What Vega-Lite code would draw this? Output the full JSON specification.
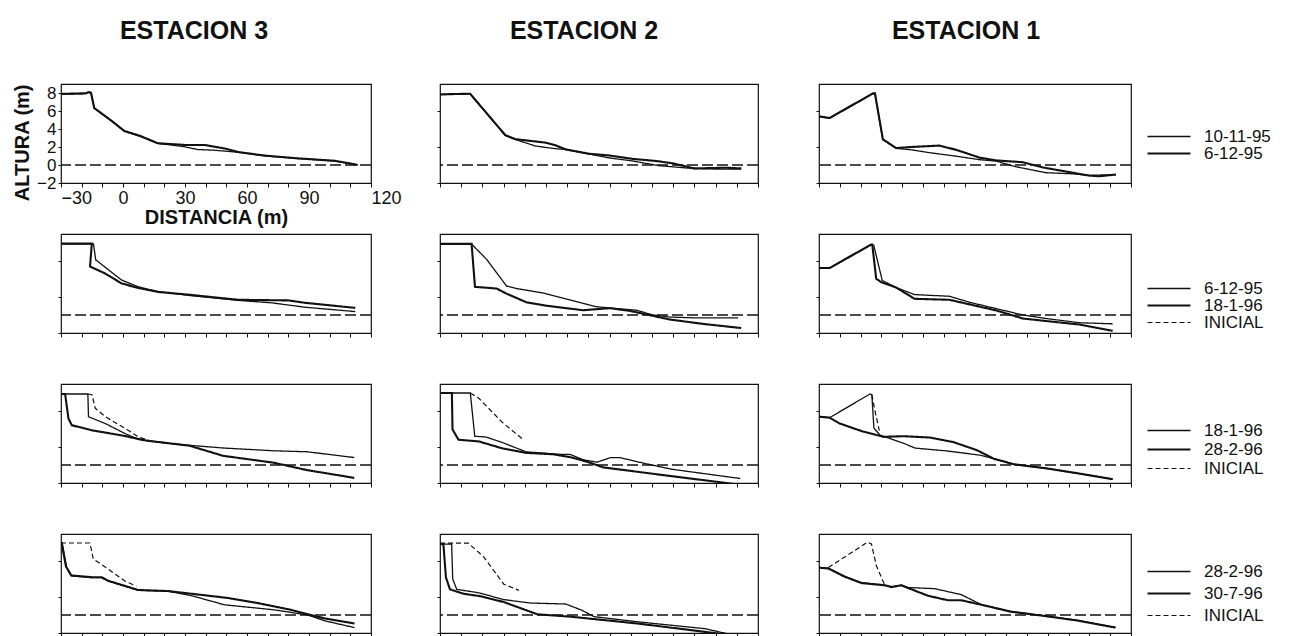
{
"$schema": "https://vega.github.io/schema/vega-lite/v6.json",
"background": "white",
"padding": {"top": 18, "left": 12, "right": 2, "bottom": 0},
"datasets": {"perfiles": [
{"fila":1,"est":3,"serie":"6-12-95","i":0,"d":-30,"z":7.9},{"fila":1,"est":3,"serie":"6-12-95","i":1,"d":-17.9,"z":7.97},{"fila":1,"est":3,"serie":"6-12-95","i":2,"d":-16.8,"z":8.1},{"fila":1,"est":3,"serie":"6-12-95","i":3,"d":-15.5,"z":8.05},{"fila":1,"est":3,"serie":"6-12-95","i":4,"d":-13.9,"z":6.33},{"fila":1,"est":3,"serie":"6-12-95","i":5,"d":-5.8,"z":4.96},{"fila":1,"est":3,"serie":"6-12-95","i":6,"d":0.6,"z":3.79},{"fila":1,"est":3,"serie":"6-12-95","i":7,"d":8.7,"z":3.2},{"fila":1,"est":3,"serie":"6-12-95","i":8,"d":16.8,"z":2.42},{"fila":1,"est":3,"serie":"6-12-95","i":9,"d":29.7,"z":2.23},{"fila":1,"est":3,"serie":"6-12-95","i":10,"d":39.4,"z":2.23},{"fila":1,"est":3,"serie":"6-12-95","i":11,"d":49,"z":1.84},{"fila":1,"est":3,"serie":"6-12-95","i":12,"d":55.5,"z":1.45},{"fila":1,"est":3,"serie":"6-12-95","i":13,"d":68.4,"z":1.05},{"fila":1,"est":3,"serie":"6-12-95","i":14,"d":84.5,"z":0.74},{"fila":1,"est":3,"serie":"6-12-95","i":15,"d":102.3,"z":0.47},{"fila":1,"est":3,"serie":"6-12-95","i":16,"d":110.3,"z":0.16},{"fila":1,"est":3,"serie":"6-12-95","i":17,"d":113.5,"z":0.0},
{"fila":1,"est":3,"serie":"10-11-95","i":0,"d":-30,"z":7.85},{"fila":1,"est":3,"serie":"10-11-95","i":1,"d":-17.9,"z":7.93},{"fila":1,"est":3,"serie":"10-11-95","i":2,"d":-16.8,"z":8.05},{"fila":1,"est":3,"serie":"10-11-95","i":3,"d":-15.5,"z":8.0},{"fila":1,"est":3,"serie":"10-11-95","i":4,"d":-13.9,"z":6.3},{"fila":1,"est":3,"serie":"10-11-95","i":5,"d":-5.8,"z":4.92},{"fila":1,"est":3,"serie":"10-11-95","i":6,"d":0.6,"z":3.75},{"fila":1,"est":3,"serie":"10-11-95","i":7,"d":8.7,"z":3.15},{"fila":1,"est":3,"serie":"10-11-95","i":8,"d":16.8,"z":2.4},{"fila":1,"est":3,"serie":"10-11-95","i":9,"d":29.7,"z":2.03},{"fila":1,"est":3,"serie":"10-11-95","i":10,"d":36.1,"z":1.72},{"fila":1,"est":3,"serie":"10-11-95","i":11,"d":44.2,"z":1.64},{"fila":1,"est":3,"serie":"10-11-95","i":12,"d":55.5,"z":1.42},{"fila":1,"est":3,"serie":"10-11-95","i":13,"d":68.4,"z":1.02},{"fila":1,"est":3,"serie":"10-11-95","i":14,"d":84.5,"z":0.72},{"fila":1,"est":3,"serie":"10-11-95","i":15,"d":102.3,"z":0.45},{"fila":1,"est":3,"serie":"10-11-95","i":16,"d":110.3,"z":0.14},{"fila":1,"est":3,"serie":"10-11-95","i":17,"d":113.5,"z":0.0},
{"fila":1,"est":2,"serie":"6-12-95","i":0,"d":-30,"z":7.85},{"fila":1,"est":2,"serie":"6-12-95","i":1,"d":-15.8,"z":7.92},{"fila":1,"est":2,"serie":"6-12-95","i":2,"d":0.8,"z":3.32},{"fila":1,"est":2,"serie":"6-12-95","i":3,"d":5.5,"z":2.87},{"fila":1,"est":2,"serie":"6-12-95","i":4,"d":19.7,"z":2.49},{"fila":1,"est":2,"serie":"6-12-95","i":5,"d":24.5,"z":2.19},{"fila":1,"est":2,"serie":"6-12-95","i":6,"d":29.2,"z":1.74},{"fila":1,"est":2,"serie":"6-12-95","i":7,"d":40.3,"z":1.25},{"fila":1,"est":2,"serie":"6-12-95","i":8,"d":49.7,"z":1.06},{"fila":1,"est":2,"serie":"6-12-95","i":9,"d":60.8,"z":0.68},{"fila":1,"est":2,"serie":"6-12-95","i":10,"d":71.8,"z":0.45},{"fila":1,"est":2,"serie":"6-12-95","i":11,"d":79.7,"z":0.19},{"fila":1,"est":2,"serie":"6-12-95","i":12,"d":90,"z":-0.38},{"fila":1,"est":2,"serie":"6-12-95","i":13,"d":105,"z":-0.3},{"fila":1,"est":2,"serie":"6-12-95","i":14,"d":112.1,"z":-0.38},
{"fila":1,"est":2,"serie":"10-11-95","i":0,"d":-30,"z":7.82},{"fila":1,"est":2,"serie":"10-11-95","i":1,"d":-15.8,"z":7.9},{"fila":1,"est":2,"serie":"10-11-95","i":2,"d":0.8,"z":3.28},{"fila":1,"est":2,"serie":"10-11-95","i":3,"d":5.5,"z":2.84},{"fila":1,"est":2,"serie":"10-11-95","i":4,"d":15,"z":2.11},{"fila":1,"est":2,"serie":"10-11-95","i":5,"d":24.5,"z":1.81},{"fila":1,"est":2,"serie":"10-11-95","i":6,"d":29.2,"z":1.72},{"fila":1,"est":2,"serie":"10-11-95","i":7,"d":40.3,"z":1.22},{"fila":1,"est":2,"serie":"10-11-95","i":8,"d":49.7,"z":0.79},{"fila":1,"est":2,"serie":"10-11-95","i":9,"d":60.8,"z":0.45},{"fila":1,"est":2,"serie":"10-11-95","i":10,"d":73.4,"z":-0.08},{"fila":1,"est":2,"serie":"10-11-95","i":11,"d":90,"z":-0.4},{"fila":1,"est":2,"serie":"10-11-95","i":12,"d":100.3,"z":-0.45},{"fila":1,"est":2,"serie":"10-11-95","i":13,"d":112.1,"z":-0.45},
{"fila":1,"est":1,"serie":"6-12-95","i":0,"d":-30,"z":5.41},{"fila":1,"est":1,"serie":"6-12-95","i":1,"d":-24.9,"z":5.22},{"fila":1,"est":1,"serie":"6-12-95","i":2,"d":-4.1,"z":7.96},{"fila":1,"est":1,"serie":"6-12-95","i":3,"d":-3.1,"z":7.96},{"fila":1,"est":1,"serie":"6-12-95","i":4,"d":0.7,"z":2.86},{"fila":1,"est":1,"serie":"6-12-95","i":5,"d":7.1,"z":1.88},{"fila":1,"est":1,"serie":"6-12-95","i":6,"d":14.3,"z":2.0},{"fila":1,"est":1,"serie":"6-12-95","i":7,"d":27.9,"z":2.16},{"fila":1,"est":1,"serie":"6-12-95","i":8,"d":35.9,"z":1.69},{"fila":1,"est":1,"serie":"6-12-95","i":9,"d":47.2,"z":0.82},{"fila":1,"est":1,"serie":"6-12-95","i":10,"d":55.2,"z":0.51},{"fila":1,"est":1,"serie":"6-12-95","i":11,"d":68,"z":0.31},{"fila":1,"est":1,"serie":"6-12-95","i":12,"d":77.6,"z":-0.27},{"fila":1,"est":1,"serie":"6-12-95","i":13,"d":92,"z":-0.86},{"fila":1,"est":1,"serie":"6-12-95","i":14,"d":100,"z":-1.18},{"fila":1,"est":1,"serie":"6-12-95","i":15,"d":104.8,"z":-1.25},{"fila":1,"est":1,"serie":"6-12-95","i":16,"d":112.8,"z":-1.06},
{"fila":1,"est":1,"serie":"10-11-95","i":0,"d":-30,"z":5.38},{"fila":1,"est":1,"serie":"10-11-95","i":1,"d":-24.9,"z":5.2},{"fila":1,"est":1,"serie":"10-11-95","i":2,"d":-4.1,"z":7.92},{"fila":1,"est":1,"serie":"10-11-95","i":3,"d":-3.1,"z":7.92},{"fila":1,"est":1,"serie":"10-11-95","i":4,"d":0.7,"z":2.82},{"fila":1,"est":1,"serie":"10-11-95","i":5,"d":7.1,"z":1.85},{"fila":1,"est":1,"serie":"10-11-95","i":6,"d":14.3,"z":1.69},{"fila":1,"est":1,"serie":"10-11-95","i":7,"d":23.1,"z":1.37},{"fila":1,"est":1,"serie":"10-11-95","i":8,"d":35.9,"z":0.98},{"fila":1,"est":1,"serie":"10-11-95","i":9,"d":47.2,"z":0.59},{"fila":1,"est":1,"serie":"10-11-95","i":10,"d":55.2,"z":0.43},{"fila":1,"est":1,"serie":"10-11-95","i":11,"d":64.8,"z":-0.2},{"fila":1,"est":1,"serie":"10-11-95","i":12,"d":79.2,"z":-0.86},{"fila":1,"est":1,"serie":"10-11-95","i":13,"d":92,"z":-0.98},{"fila":1,"est":1,"serie":"10-11-95","i":14,"d":100,"z":-1.15},{"fila":1,"est":1,"serie":"10-11-95","i":15,"d":112.8,"z":-1.06},
{"fila":2,"est":3,"serie":"18-1-96","i":0,"d":-30,"z":7.93},{"fila":2,"est":3,"serie":"18-1-96","i":1,"d":-15.1,"z":7.93},{"fila":2,"est":3,"serie":"18-1-96","i":2,"d":-15.95,"z":5.38},{"fila":2,"est":3,"serie":"18-1-96","i":3,"d":-8.7,"z":4.62},{"fila":2,"est":3,"serie":"18-1-96","i":4,"d":-0.6,"z":3.5},{"fila":2,"est":3,"serie":"18-1-96","i":5,"d":7.5,"z":3.0},{"fila":2,"est":3,"serie":"18-1-96","i":6,"d":17.1,"z":2.56},{"fila":2,"est":3,"serie":"18-1-96","i":7,"d":31.7,"z":2.26},{"fila":2,"est":3,"serie":"18-1-96","i":8,"d":43,"z":1.99},{"fila":2,"est":3,"serie":"18-1-96","i":9,"d":55.9,"z":1.69},{"fila":2,"est":3,"serie":"18-1-96","i":10,"d":80.1,"z":1.62},{"fila":2,"est":3,"serie":"18-1-96","i":11,"d":88.2,"z":1.35},{"fila":2,"est":3,"serie":"18-1-96","i":12,"d":112.4,"z":0.79},
{"fila":2,"est":3,"serie":"6-12-95","i":0,"d":-30,"z":7.9},{"fila":2,"est":3,"serie":"6-12-95","i":1,"d":-14.3,"z":7.9},{"fila":2,"est":3,"serie":"6-12-95","i":2,"d":-13.2,"z":6.13},{"fila":2,"est":3,"serie":"6-12-95","i":3,"d":-0.6,"z":3.87},{"fila":2,"est":3,"serie":"6-12-95","i":4,"d":7.5,"z":3.12},{"fila":2,"est":3,"serie":"6-12-95","i":5,"d":17.1,"z":2.6},{"fila":2,"est":3,"serie":"6-12-95","i":6,"d":31.7,"z":2.18},{"fila":2,"est":3,"serie":"6-12-95","i":7,"d":43,"z":1.92},{"fila":2,"est":3,"serie":"6-12-95","i":8,"d":55.9,"z":1.62},{"fila":2,"est":3,"serie":"6-12-95","i":9,"d":72,"z":1.35},{"fila":2,"est":3,"serie":"6-12-95","i":10,"d":88.2,"z":0.86},{"fila":2,"est":3,"serie":"6-12-95","i":11,"d":112.4,"z":0.38},
{"fila":2,"est":2,"serie":"18-1-96","i":0,"d":-30,"z":7.9},{"fila":2,"est":2,"serie":"18-1-96","i":1,"d":-15.1,"z":7.9},{"fila":2,"est":2,"serie":"18-1-96","i":2,"d":-13.5,"z":3.13},{"fila":2,"est":2,"serie":"18-1-96","i":3,"d":-3.3,"z":2.94},{"fila":2,"est":2,"serie":"18-1-96","i":4,"d":1.4,"z":2.37},{"fila":2,"est":2,"serie":"18-1-96","i":5,"d":10.8,"z":1.41},{"fila":2,"est":2,"serie":"18-1-96","i":6,"d":20.3,"z":1.03},{"fila":2,"est":2,"serie":"18-1-96","i":7,"d":37.5,"z":0.53},{"fila":2,"est":2,"serie":"18-1-96","i":8,"d":50.1,"z":0.76},{"fila":2,"est":2,"serie":"18-1-96","i":9,"d":59.5,"z":0.46},{"fila":2,"est":2,"serie":"18-1-96","i":10,"d":78.4,"z":-0.5},{"fila":2,"est":2,"serie":"18-1-96","i":11,"d":94.1,"z":-0.99},{"fila":2,"est":2,"serie":"18-1-96","i":12,"d":112.1,"z":-1.45},
{"fila":2,"est":2,"serie":"6-12-95","i":0,"d":-30,"z":7.88},{"fila":2,"est":2,"serie":"6-12-95","i":1,"d":-15.1,"z":7.88},{"fila":2,"est":2,"serie":"6-12-95","i":2,"d":-8,"z":6.18},{"fila":2,"est":2,"serie":"6-12-95","i":3,"d":1.4,"z":3.21},{"fila":2,"est":2,"serie":"6-12-95","i":4,"d":6.1,"z":2.94},{"fila":2,"est":2,"serie":"6-12-95","i":5,"d":18.7,"z":2.44},{"fila":2,"est":2,"serie":"6-12-95","i":6,"d":31.3,"z":1.68},{"fila":2,"est":2,"serie":"6-12-95","i":7,"d":43.8,"z":0.92},{"fila":2,"est":2,"serie":"6-12-95","i":8,"d":50.1,"z":0.78},{"fila":2,"est":2,"serie":"6-12-95","i":9,"d":62.7,"z":0.53},{"fila":2,"est":2,"serie":"6-12-95","i":10,"d":70.5,"z":0.0},{"fila":2,"est":2,"serie":"6-12-95","i":11,"d":78.4,"z":-0.23},{"fila":2,"est":2,"serie":"6-12-95","i":12,"d":89.4,"z":-0.31},{"fila":2,"est":2,"serie":"6-12-95","i":13,"d":110.6,"z":-0.31},
{"fila":2,"est":1,"serie":"18-1-96","i":0,"d":-30,"z":5.22},{"fila":2,"est":1,"serie":"18-1-96","i":1,"d":-24.9,"z":5.22},{"fila":2,"est":1,"serie":"18-1-96","i":2,"d":-4.9,"z":7.84},{"fila":2,"est":1,"serie":"18-1-96","i":3,"d":-4.4,"z":7.84},{"fila":2,"est":1,"serie":"18-1-96","i":4,"d":-2.5,"z":4.04},{"fila":2,"est":1,"serie":"18-1-96","i":5,"d":-0.1,"z":3.65},{"fila":2,"est":1,"serie":"18-1-96","i":6,"d":7.1,"z":3.06},{"fila":2,"est":1,"serie":"18-1-96","i":7,"d":15.9,"z":1.8},{"fila":2,"est":1,"serie":"18-1-96","i":8,"d":32.7,"z":1.69},{"fila":2,"est":1,"serie":"18-1-96","i":9,"d":42.4,"z":1.18},{"fila":2,"est":1,"serie":"18-1-96","i":10,"d":55.2,"z":0.51},{"fila":2,"est":1,"serie":"18-1-96","i":11,"d":68,"z":-0.39},{"fila":2,"est":1,"serie":"18-1-96","i":12,"d":79.2,"z":-0.67},{"fila":2,"est":1,"serie":"18-1-96","i":13,"d":95.2,"z":-1.06},{"fila":2,"est":1,"serie":"18-1-96","i":14,"d":111.2,"z":-1.76},
{"fila":2,"est":1,"serie":"6-12-95","i":0,"d":-30,"z":5.2},{"fila":2,"est":1,"serie":"6-12-95","i":1,"d":-24.9,"z":5.2},{"fila":2,"est":1,"serie":"6-12-95","i":2,"d":-4.9,"z":7.8},{"fila":2,"est":1,"serie":"6-12-95","i":3,"d":-3.7,"z":7.76},{"fila":2,"est":1,"serie":"6-12-95","i":4,"d":0.4,"z":3.84},{"fila":2,"est":1,"serie":"6-12-95","i":5,"d":7.1,"z":3.04},{"fila":2,"est":1,"serie":"6-12-95","i":6,"d":15.9,"z":2.27},{"fila":2,"est":1,"serie":"6-12-95","i":7,"d":32.7,"z":2.08},{"fila":2,"est":1,"serie":"6-12-95","i":8,"d":42.4,"z":1.41},{"fila":2,"est":1,"serie":"6-12-95","i":9,"d":55.2,"z":0.71},{"fila":2,"est":1,"serie":"6-12-95","i":10,"d":68,"z":0.0},{"fila":2,"est":1,"serie":"6-12-95","i":11,"d":79.2,"z":-0.39},{"fila":2,"est":1,"serie":"6-12-95","i":12,"d":95.2,"z":-0.86},{"fila":2,"est":1,"serie":"6-12-95","i":13,"d":111.2,"z":-0.98},
{"fila":3,"est":3,"serie":"18-1-96","i":0,"d":-30,"z":7.89},{"fila":3,"est":3,"serie":"18-1-96","i":1,"d":-17,"z":7.89},{"fila":3,"est":3,"serie":"18-1-96","i":2,"d":-16.7,"z":5.36},{"fila":3,"est":3,"serie":"18-1-96","i":3,"d":-8.5,"z":4.6},{"fila":3,"est":3,"serie":"18-1-96","i":4,"d":1.2,"z":3.47},{"fila":3,"est":3,"serie":"18-1-96","i":5,"d":7.7,"z":2.83},{"fila":3,"est":3,"serie":"18-1-96","i":6,"d":24,"z":2.34},{"fila":3,"est":3,"serie":"18-1-96","i":7,"d":48.4,"z":1.89},{"fila":3,"est":3,"serie":"18-1-96","i":8,"d":72.8,"z":1.58},{"fila":3,"est":3,"serie":"18-1-96","i":9,"d":89.1,"z":1.47},{"fila":3,"est":3,"serie":"18-1-96","i":10,"d":111.9,"z":0.83},
{"fila":3,"est":3,"serie":"28-2-96","i":0,"d":-30,"z":7.89},{"fila":3,"est":3,"serie":"28-2-96","i":1,"d":-28,"z":7.89},{"fila":3,"est":3,"serie":"28-2-96","i":2,"d":-26.4,"z":5.17},{"fila":3,"est":3,"serie":"28-2-96","i":3,"d":-24.8,"z":4.42},{"fila":3,"est":3,"serie":"28-2-96","i":4,"d":-15,"z":3.85},{"fila":3,"est":3,"serie":"28-2-96","i":5,"d":-0.4,"z":3.28},{"fila":3,"est":3,"serie":"28-2-96","i":6,"d":11,"z":2.72},{"fila":3,"est":3,"serie":"28-2-96","i":7,"d":32.1,"z":2.15},{"fila":3,"est":3,"serie":"28-2-96","i":8,"d":48.4,"z":1.02},{"fila":3,"est":3,"serie":"28-2-96","i":9,"d":72.8,"z":0.26},{"fila":3,"est":3,"serie":"28-2-96","i":10,"d":89.1,"z":-0.57},{"fila":3,"est":3,"serie":"28-2-96","i":11,"d":111.9,"z":-1.43},
{"fila":3,"est":3,"serie":"INICIAL","i":0,"d":-17,"z":7.89},{"fila":3,"est":3,"serie":"INICIAL","i":1,"d":-15,"z":7.81},{"fila":3,"est":3,"serie":"INICIAL","i":2,"d":-13.4,"z":6.3},{"fila":3,"est":3,"serie":"INICIAL","i":3,"d":-8.5,"z":5.36},{"fila":3,"est":3,"serie":"INICIAL","i":4,"d":1.2,"z":4.04},{"fila":3,"est":3,"serie":"INICIAL","i":5,"d":7.7,"z":3.09},{"fila":3,"est":3,"serie":"INICIAL","i":6,"d":12.6,"z":2.72},
{"fila":3,"est":2,"serie":"18-1-96","i":0,"d":-30,"z":8.0},{"fila":3,"est":2,"serie":"18-1-96","i":1,"d":-15.7,"z":8.0},{"fila":3,"est":2,"serie":"18-1-96","i":2,"d":-13.6,"z":3.19},{"fila":3,"est":2,"serie":"18-1-96","i":3,"d":-8.5,"z":3.12},{"fila":3,"est":2,"serie":"18-1-96","i":4,"d":-0.6,"z":2.5},{"fila":3,"est":2,"serie":"18-1-96","i":5,"d":10.6,"z":1.46},{"fila":3,"est":2,"serie":"18-1-96","i":6,"d":26.5,"z":1.19},{"fila":3,"est":2,"serie":"18-1-96","i":7,"d":31.2,"z":1.19},{"fila":3,"est":2,"serie":"18-1-96","i":8,"d":37.6,"z":0.58},{"fila":3,"est":2,"serie":"18-1-96","i":9,"d":44,"z":0.31},{"fila":3,"est":2,"serie":"18-1-96","i":10,"d":50.3,"z":0.81},{"fila":3,"est":2,"serie":"18-1-96","i":11,"d":55.1,"z":0.81},{"fila":3,"est":2,"serie":"18-1-96","i":12,"d":66.2,"z":0.19},{"fila":3,"est":2,"serie":"18-1-96","i":13,"d":79,"z":-0.46},{"fila":3,"est":2,"serie":"18-1-96","i":14,"d":111.6,"z":-1.5},
{"fila":3,"est":2,"serie":"28-2-96","i":0,"d":-30,"z":8.0},{"fila":3,"est":2,"serie":"28-2-96","i":1,"d":-24.4,"z":8.0},{"fila":3,"est":2,"serie":"28-2-96","i":2,"d":-24.1,"z":3.96},{"fila":3,"est":2,"serie":"28-2-96","i":3,"d":-21.3,"z":2.81},{"fila":3,"est":2,"serie":"28-2-96","i":4,"d":-11.7,"z":2.62},{"fila":3,"est":2,"serie":"28-2-96","i":5,"d":-0.6,"z":1.85},{"fila":3,"est":2,"serie":"28-2-96","i":6,"d":10.6,"z":1.35},{"fila":3,"est":2,"serie":"28-2-96","i":7,"d":23.3,"z":1.19},{"fila":3,"est":2,"serie":"28-2-96","i":8,"d":31.2,"z":0.88},{"fila":3,"est":2,"serie":"28-2-96","i":9,"d":39.2,"z":0.38},{"fila":3,"est":2,"serie":"28-2-96","i":10,"d":47.1,"z":-0.27},{"fila":3,"est":2,"serie":"28-2-96","i":11,"d":79,"z":-1.23},{"fila":3,"est":2,"serie":"28-2-96","i":12,"d":109.2,"z":-2.12},
{"fila":3,"est":2,"serie":"INICIAL","i":0,"d":-15.7,"z":8.0},{"fila":3,"est":2,"serie":"INICIAL","i":1,"d":-11.7,"z":7.42},{"fila":3,"est":2,"serie":"INICIAL","i":2,"d":-0.6,"z":4.73},{"fila":3,"est":2,"serie":"INICIAL","i":3,"d":9,"z":2.88},
{"fila":3,"est":1,"serie":"18-1-96","i":0,"d":-30,"z":5.39},{"fila":3,"est":1,"serie":"18-1-96","i":1,"d":-24.8,"z":5.27},{"fila":3,"est":1,"serie":"18-1-96","i":2,"d":-5.5,"z":7.89},{"fila":3,"est":1,"serie":"18-1-96","i":3,"d":-4.6,"z":7.81},{"fila":3,"est":1,"serie":"18-1-96","i":4,"d":-3.6,"z":4.1},{"fila":3,"est":1,"serie":"18-1-96","i":5,"d":-0.7,"z":3.32},{"fila":3,"est":1,"serie":"18-1-96","i":6,"d":10.6,"z":2.42},{"fila":3,"est":1,"serie":"18-1-96","i":7,"d":16.2,"z":1.88},{"fila":3,"est":1,"serie":"18-1-96","i":8,"d":31.5,"z":1.56},{"fila":3,"est":1,"serie":"18-1-96","i":9,"d":47.6,"z":1.09},{"fila":3,"est":1,"serie":"18-1-96","i":10,"d":54,"z":0.7},{"fila":3,"est":1,"serie":"18-1-96","i":11,"d":63.7,"z":0.08},{"fila":3,"est":1,"serie":"18-1-96","i":12,"d":79.8,"z":-0.39},{"fila":3,"est":1,"serie":"18-1-96","i":13,"d":95.9,"z":-0.98},{"fila":3,"est":1,"serie":"18-1-96","i":14,"d":111.2,"z":-1.56},
{"fila":3,"est":1,"serie":"28-2-96","i":0,"d":-30,"z":5.37},{"fila":3,"est":1,"serie":"28-2-96","i":1,"d":-24.8,"z":5.25},{"fila":3,"est":1,"serie":"28-2-96","i":2,"d":-20,"z":4.61},{"fila":3,"est":1,"serie":"28-2-96","i":3,"d":-8.8,"z":3.71},{"fila":3,"est":1,"serie":"28-2-96","i":4,"d":0.9,"z":3.13},{"fila":3,"est":1,"serie":"28-2-96","i":5,"d":10.6,"z":3.2},{"fila":3,"est":1,"serie":"28-2-96","i":6,"d":23.4,"z":3.05},{"fila":3,"est":1,"serie":"28-2-96","i":7,"d":34.7,"z":2.54},{"fila":3,"est":1,"serie":"28-2-96","i":8,"d":46,"z":1.64},{"fila":3,"est":1,"serie":"28-2-96","i":9,"d":54,"z":0.7},{"fila":3,"est":1,"serie":"28-2-96","i":10,"d":63.7,"z":0.08},{"fila":3,"est":1,"serie":"28-2-96","i":11,"d":79.8,"z":-0.39},{"fila":3,"est":1,"serie":"28-2-96","i":12,"d":95.9,"z":-0.98},{"fila":3,"est":1,"serie":"28-2-96","i":13,"d":111.2,"z":-1.58},
{"fila":3,"est":1,"serie":"INICIAL","i":0,"d":-4.6,"z":7.81},{"fila":3,"est":1,"serie":"INICIAL","i":1,"d":-2.6,"z":5.47},{"fila":3,"est":1,"serie":"INICIAL","i":2,"d":-1,"z":3.83},
{"fila":4,"est":3,"serie":"28-2-96","i":0,"d":-30,"z":8.0},{"fila":4,"est":3,"serie":"28-2-96","i":1,"d":-29.4,"z":8.0},{"fila":4,"est":3,"serie":"28-2-96","i":2,"d":-27.3,"z":5.28},{"fila":4,"est":3,"serie":"28-2-96","i":3,"d":-24.8,"z":4.34},{"fila":4,"est":3,"serie":"28-2-96","i":4,"d":-15.2,"z":4.15},{"fila":4,"est":3,"serie":"28-2-96","i":5,"d":-10.4,"z":4.15},{"fila":4,"est":3,"serie":"28-2-96","i":6,"d":-7.1,"z":3.77},{"fila":4,"est":3,"serie":"28-2-96","i":7,"d":7.3,"z":2.75},{"fila":4,"est":3,"serie":"28-2-96","i":8,"d":21.8,"z":2.64},{"fila":4,"est":3,"serie":"28-2-96","i":9,"d":33.1,"z":2.15},{"fila":4,"est":3,"serie":"28-2-96","i":10,"d":49.2,"z":1.13},{"fila":4,"est":3,"serie":"28-2-96","i":11,"d":73.3,"z":0.57},{"fila":4,"est":3,"serie":"28-2-96","i":12,"d":89.4,"z":0.0},{"fila":4,"est":3,"serie":"28-2-96","i":13,"d":97.5,"z":-0.64},{"fila":4,"est":3,"serie":"28-2-96","i":14,"d":112,"z":-1.4},
{"fila":4,"est":3,"serie":"30-7-96","i":0,"d":-30,"z":8.0},{"fila":4,"est":3,"serie":"30-7-96","i":1,"d":-29.7,"z":8.0},{"fila":4,"est":3,"serie":"30-7-96","i":2,"d":-27.6,"z":5.4},{"fila":4,"est":3,"serie":"30-7-96","i":3,"d":-25.1,"z":4.4},{"fila":4,"est":3,"serie":"30-7-96","i":4,"d":-15.2,"z":4.2},{"fila":4,"est":3,"serie":"30-7-96","i":5,"d":-10.4,"z":4.2},{"fila":4,"est":3,"serie":"30-7-96","i":6,"d":-7.1,"z":3.8},{"fila":4,"est":3,"serie":"30-7-96","i":7,"d":7.3,"z":2.78},{"fila":4,"est":3,"serie":"30-7-96","i":8,"d":21.8,"z":2.66},{"fila":4,"est":3,"serie":"30-7-96","i":9,"d":41.1,"z":2.15},{"fila":4,"est":3,"serie":"30-7-96","i":10,"d":50.8,"z":1.89},{"fila":4,"est":3,"serie":"30-7-96","i":11,"d":65.3,"z":1.32},{"fila":4,"est":3,"serie":"30-7-96","i":12,"d":81.4,"z":0.57},{"fila":4,"est":3,"serie":"30-7-96","i":13,"d":97.5,"z":-0.38},{"fila":4,"est":3,"serie":"30-7-96","i":14,"d":112,"z":-0.94},
{"fila":4,"est":3,"serie":"INICIAL","i":0,"d":-30,"z":8.0},{"fila":4,"est":3,"serie":"INICIAL","i":1,"d":-16,"z":8.0},{"fila":4,"est":3,"serie":"INICIAL","i":2,"d":-14.4,"z":6.23},{"fila":4,"est":3,"serie":"INICIAL","i":3,"d":-7.1,"z":5.09},{"fila":4,"est":3,"serie":"INICIAL","i":4,"d":0.9,"z":3.77},{"fila":4,"est":3,"serie":"INICIAL","i":5,"d":6.5,"z":3.21},
{"fila":4,"est":2,"serie":"28-2-96","i":0,"d":-30,"z":7.87},{"fila":4,"est":2,"serie":"28-2-96","i":1,"d":-24.5,"z":7.87},{"fila":4,"est":2,"serie":"28-2-96","i":2,"d":-24,"z":3.99},{"fila":4,"est":2,"serie":"28-2-96","i":3,"d":-22.1,"z":2.85},{"fila":4,"est":2,"serie":"28-2-96","i":4,"d":-11.8,"z":2.47},{"fila":4,"est":2,"serie":"28-2-96","i":5,"d":0.1,"z":1.71},{"fila":4,"est":2,"serie":"28-2-96","i":6,"d":12.7,"z":1.33},{"fila":4,"est":2,"serie":"28-2-96","i":7,"d":29.3,"z":1.22},{"fila":4,"est":2,"serie":"28-2-96","i":8,"d":36.5,"z":0.57},{"fila":4,"est":2,"serie":"28-2-96","i":9,"d":42.8,"z":-0.19},{"fila":4,"est":2,"serie":"28-2-96","i":10,"d":63.4,"z":-0.76},{"fila":4,"est":2,"serie":"28-2-96","i":11,"d":95,"z":-1.52},{"fila":4,"est":2,"serie":"28-2-96","i":12,"d":107.7,"z":-2.2},
{"fila":4,"est":2,"serie":"30-7-96","i":0,"d":-30,"z":7.87},{"fila":4,"est":2,"serie":"30-7-96","i":1,"d":-28.4,"z":7.87},{"fila":4,"est":2,"serie":"30-7-96","i":2,"d":-27.2,"z":4.18},{"fila":4,"est":2,"serie":"30-7-96","i":3,"d":-25.3,"z":2.85},{"fila":4,"est":2,"serie":"30-7-96","i":4,"d":-18.9,"z":2.36},{"fila":4,"est":2,"serie":"30-7-96","i":5,"d":-11,"z":2.09},{"fila":4,"est":2,"serie":"30-7-96","i":6,"d":0.1,"z":1.44},{"fila":4,"est":2,"serie":"30-7-96","i":7,"d":15.9,"z":0.08},{"fila":4,"est":2,"serie":"30-7-96","i":8,"d":31.7,"z":-0.19},{"fila":4,"est":2,"serie":"30-7-96","i":9,"d":63.4,"z":-0.95},{"fila":4,"est":2,"serie":"30-7-96","i":10,"d":106.1,"z":-2.2},
{"fila":4,"est":2,"serie":"INICIAL","i":0,"d":-30,"z":7.98},{"fila":4,"est":2,"serie":"INICIAL","i":1,"d":-16.6,"z":7.98},{"fila":4,"est":2,"serie":"INICIAL","i":2,"d":-9.4,"z":6.46},{"fila":4,"est":2,"serie":"INICIAL","i":3,"d":0.1,"z":3.42},{"fila":4,"est":2,"serie":"INICIAL","i":4,"d":7.2,"z":2.74},
{"fila":4,"est":1,"serie":"28-2-96","i":0,"d":-30,"z":5.27},{"fila":4,"est":1,"serie":"28-2-96","i":1,"d":-25.5,"z":5.2},{"fila":4,"est":1,"serie":"28-2-96","i":2,"d":-17.6,"z":4.3},{"fila":4,"est":1,"serie":"28-2-96","i":3,"d":-9.6,"z":3.59},{"fila":4,"est":1,"serie":"28-2-96","i":4,"d":1.6,"z":3.32},{"fila":4,"est":1,"serie":"28-2-96","i":5,"d":4.8,"z":3.13},{"fila":4,"est":1,"serie":"28-2-96","i":6,"d":9.6,"z":3.32},{"fila":4,"est":1,"serie":"28-2-96","i":7,"d":12.8,"z":3.05},{"fila":4,"est":1,"serie":"28-2-96","i":8,"d":25.5,"z":2.93},{"fila":4,"est":1,"serie":"28-2-96","i":9,"d":38.3,"z":2.27},{"fila":4,"est":1,"serie":"28-2-96","i":10,"d":47.9,"z":1.17},{"fila":4,"est":1,"serie":"28-2-96","i":11,"d":62.2,"z":0.39},{"fila":4,"est":1,"serie":"28-2-96","i":12,"d":78.2,"z":-0.08},{"fila":4,"est":1,"serie":"28-2-96","i":13,"d":94.1,"z":-0.59},{"fila":4,"est":1,"serie":"28-2-96","i":14,"d":112.5,"z":-1.37},
{"fila":4,"est":1,"serie":"30-7-96","i":0,"d":-30,"z":5.25},{"fila":4,"est":1,"serie":"30-7-96","i":1,"d":-25.5,"z":5.17},{"fila":4,"est":1,"serie":"30-7-96","i":2,"d":-17.6,"z":4.25},{"fila":4,"est":1,"serie":"30-7-96","i":3,"d":-9.6,"z":3.55},{"fila":4,"est":1,"serie":"30-7-96","i":4,"d":1.6,"z":3.3},{"fila":4,"est":1,"serie":"30-7-96","i":5,"d":4.8,"z":3.1},{"fila":4,"est":1,"serie":"30-7-96","i":6,"d":9.6,"z":3.3},{"fila":4,"est":1,"serie":"30-7-96","i":7,"d":12.8,"z":3.0},{"fila":4,"est":1,"serie":"30-7-96","i":8,"d":22.3,"z":2.15},{"fila":4,"est":1,"serie":"30-7-96","i":9,"d":31.9,"z":1.64},{"fila":4,"est":1,"serie":"30-7-96","i":10,"d":38.3,"z":1.64},{"fila":4,"est":1,"serie":"30-7-96","i":11,"d":47.9,"z":1.15},{"fila":4,"est":1,"serie":"30-7-96","i":12,"d":62.2,"z":0.37},{"fila":4,"est":1,"serie":"30-7-96","i":13,"d":78.2,"z":-0.1},{"fila":4,"est":1,"serie":"30-7-96","i":14,"d":94.1,"z":-0.61},{"fila":4,"est":1,"serie":"30-7-96","i":15,"d":112.5,"z":-1.4},
{"fila":4,"est":1,"serie":"INICIAL","i":0,"d":-25.5,"z":5.27},{"fila":4,"est":1,"serie":"INICIAL","i":1,"d":-6.7,"z":8.09},{"fila":4,"est":1,"serie":"INICIAL","i":2,"d":-4.8,"z":7.89},{"fila":4,"est":1,"serie":"INICIAL","i":3,"d":-2.4,"z":5.47},{"fila":4,"est":1,"serie":"INICIAL","i":4,"d":1.6,"z":3.32}
]},
"columns": 3,
"bounds": "flush",
"align": "all",
"spacing": {"row": 51, "column": 61},
"resolve": {"scale": {"x": "independent", "y": "independent", "strokeDash": "independent", "strokeWidth": "independent"}, "legend": {"strokeDash": "independent", "strokeWidth": "independent"}},
"concat": [
{"width": 310, "height": 99, "title": {"text": "ESTACION 3", "dx": -22},
 "layer": [
  {"data": {"name": "perfiles"}, "transform": [{"filter": "datum.fila == 1 && datum.est == 3"}],
   "mark": {"type": "line", "color": "#111", "clip": true},
   "encoding": {
    "x": {"field": "d", "type": "quantitative", "scale": {"domain": [-30, 120], "nice": false, "zero": false}, "axis": {"values": [-30,-20,-10,0,10,20,30,40,50,60,70,80,90,100,110,120], "labelExpr": "datum.value % 30 === 0 ? datum.label : ''", "labelOverlap": false, "labelFlush": false, "labelAlign": {"condition": {"test": "datum.value <= -30 || datum.value >= 120", "value": "left"}, "value": "center"}, "labelFontSize": 18, "labelPadding": 2, "tickSize": 4, "title": "DISTANCIA (m)", "titleFontSize": 20, "titleFontWeight": "bold", "titlePadding": 0}},
    "y": {"field": "z", "type": "quantitative", "scale": {"domain": [-2, 9], "nice": false, "zero": false}, "axis": {"values": [-2,0,2,4,6,8], "labelOverlap": false, "labelFontSize": 17, "labelPadding": 2, "tickSize": 3, "title": "ALTURA (m)", "titleFontSize": 20, "titleFontWeight": "bold", "titlePadding": 4, "titleAnchor": "end"}},
    "order": {"field": "i"},
    "strokeDash": {"field": "serie", "type": "nominal", "scale": {"domain": ["10-11-95", "6-12-95"], "range": [[1, 0], [1, 0]]}, "legend": null},
    "strokeWidth": {"field": "serie", "type": "nominal", "scale": {"type": "ordinal", "domain": ["10-11-95", "6-12-95"], "range": [1.3, 2.1]}, "legend": null}
   }},
  {"data": {"values": [{}]}, "mark": {"type": "rule", "color": "#111", "strokeWidth": 1.3, "strokeDash": [11, 4]}, "encoding": {"y": {"datum": 0, "axis": {"values": [-2,0,2,4,6,8], "labelOverlap": false, "labelFontSize": 17, "labelPadding": 2, "tickSize": 3, "title": "ALTURA (m)", "titleFontSize": 20, "titleFontWeight": "bold", "titlePadding": 4, "titleAnchor": "end"}}}}
 ]},
{"width": 318, "height": 99, "title": {"text": "ESTACION 2", "dx": -15},
 "layer": [
  {"data": {"values": [{}]}, "mark": {"type": "rule", "color": "#111", "strokeWidth": 1.3, "strokeDash": [11, 4]}, "encoding": {"y": {"datum": 0}}},
  {"data": {"name": "perfiles"}, "transform": [{"filter": "datum.fila == 1 && datum.est == 2"}],
   "mark": {"type": "line", "color": "#111", "clip": true},
   "encoding": {
    "x": {"field": "d", "type": "quantitative", "scale": {"domain": [-30, 120], "nice": false, "zero": false}, "axis": {"values": [-30,-20,-10,0,10,20,30,40,50,60,70,80,90,100,110,120], "labels": false, "tickSize": 4, "title": null}},
    "y": {"field": "z", "type": "quantitative", "scale": {"domain": [-2, 9], "nice": false, "zero": false}, "axis": {"values": [-2,0,2,4,6,8], "labels": false, "tickSize": 3, "title": null}},
    "order": {"field": "i"},
    "strokeDash": {"field": "serie", "type": "nominal", "scale": {"domain": ["10-11-95", "6-12-95"], "range": [[1, 0], [1, 0]]}, "legend": null},
    "strokeWidth": {"field": "serie", "type": "nominal", "scale": {"type": "ordinal", "domain": ["10-11-95", "6-12-95"], "range": [1.3, 2.1]}, "legend": null}
   }}
 ]},
{"width": 312, "height": 99, "title": {"text": "ESTACION 1", "dx": -9},
 "layer": [
  {"data": {"values": [{}]}, "mark": {"type": "rule", "color": "#111", "strokeWidth": 1.3, "strokeDash": [11, 4]}, "encoding": {"y": {"datum": 0}}},
  {"data": {"name": "perfiles"}, "transform": [{"filter": "datum.fila == 1 && datum.est == 1"}],
   "mark": {"type": "line", "color": "#111", "clip": true},
   "encoding": {
    "x": {"field": "d", "type": "quantitative", "scale": {"domain": [-30, 120], "nice": false, "zero": false}, "axis": {"values": [-30,-20,-10,0,10,20,30,40,50,60,70,80,90,100,110,120], "labels": false, "tickSize": 4, "title": null}},
    "y": {"field": "z", "type": "quantitative", "scale": {"domain": [-2, 9], "nice": false, "zero": false}, "axis": {"values": [-2,0,2,4,6,8], "labels": false, "tickSize": 3, "title": null}},
    "order": {"field": "i"},
    "strokeDash": {"field": "serie", "type": "nominal", "scale": {"domain": ["10-11-95", "6-12-95"], "range": [[1, 0], [1, 0]]}, "legend": {"title": null, "orient": "none", "legendX": 327, "legendY": 45, "clipHeight": 15, "rowPadding": -1}},
    "strokeWidth": {"field": "serie", "type": "nominal", "scale": {"type": "ordinal", "domain": ["10-11-95", "6-12-95"], "range": [1.3, 2.1]}, "legend": {"title": null, "orient": "none", "legendX": 327, "legendY": 45, "clipHeight": 15, "rowPadding": -1}}
   }}
 ]},
{"width": 310, "height": 99,
 "layer": [
  {"data": {"values": [{}]}, "mark": {"type": "rule", "color": "#111", "strokeWidth": 1.3, "strokeDash": [11, 4]}, "encoding": {"y": {"datum": 0}}},
  {"data": {"name": "perfiles"}, "transform": [{"filter": "datum.fila == 2 && datum.est == 3"}],
   "mark": {"type": "line", "color": "#111", "clip": true},
   "encoding": {
    "x": {"field": "d", "type": "quantitative", "scale": {"domain": [-30, 120], "nice": false, "zero": false}, "axis": {"values": [-30,-20,-10,0,10,20,30,40,50,60,70,80,90,100,110,120], "labels": false, "tickSize": 4, "title": null}},
    "y": {"field": "z", "type": "quantitative", "scale": {"domain": [-2, 9], "nice": false, "zero": false}, "axis": {"values": [-2,0,2,4,6,8], "labels": false, "tickSize": 3, "title": null}},
    "order": {"field": "i"},
    "strokeDash": {"field": "serie", "type": "nominal", "scale": {"domain": ["6-12-95", "18-1-96", "INICIAL"], "range": [[1, 0], [1, 0], [5, 3]]}, "legend": null},
    "strokeWidth": {"field": "serie", "type": "nominal", "scale": {"type": "ordinal", "domain": ["6-12-95", "18-1-96", "INICIAL"], "range": [1.3, 2.1, 1.2]}, "legend": null}
   }}
 ]},
{"width": 318, "height": 99,
 "layer": [
  {"data": {"values": [{}]}, "mark": {"type": "rule", "color": "#111", "strokeWidth": 1.3, "strokeDash": [11, 4]}, "encoding": {"y": {"datum": 0}}},
  {"data": {"name": "perfiles"}, "transform": [{"filter": "datum.fila == 2 && datum.est == 2"}],
   "mark": {"type": "line", "color": "#111", "clip": true},
   "encoding": {
    "x": {"field": "d", "type": "quantitative", "scale": {"domain": [-30, 120], "nice": false, "zero": false}, "axis": {"values": [-30,-20,-10,0,10,20,30,40,50,60,70,80,90,100,110,120], "labels": false, "tickSize": 4, "title": null}},
    "y": {"field": "z", "type": "quantitative", "scale": {"domain": [-2, 9], "nice": false, "zero": false}, "axis": {"values": [-2,0,2,4,6,8], "labels": false, "tickSize": 3, "title": null}},
    "order": {"field": "i"},
    "strokeDash": {"field": "serie", "type": "nominal", "scale": {"domain": ["6-12-95", "18-1-96", "INICIAL"], "range": [[1, 0], [1, 0], [5, 3]]}, "legend": null},
    "strokeWidth": {"field": "serie", "type": "nominal", "scale": {"type": "ordinal", "domain": ["6-12-95", "18-1-96", "INICIAL"], "range": [1.3, 2.1, 1.2]}, "legend": null}
   }}
 ]},
{"width": 312, "height": 99,
 "layer": [
  {"data": {"values": [{}]}, "mark": {"type": "rule", "color": "#111", "strokeWidth": 1.3, "strokeDash": [11, 4]}, "encoding": {"y": {"datum": 0}}},
  {"data": {"name": "perfiles"}, "transform": [{"filter": "datum.fila == 2 && datum.est == 1"}],
   "mark": {"type": "line", "color": "#111", "clip": true},
   "encoding": {
    "x": {"field": "d", "type": "quantitative", "scale": {"domain": [-30, 120], "nice": false, "zero": false}, "axis": {"values": [-30,-20,-10,0,10,20,30,40,50,60,70,80,90,100,110,120], "labels": false, "tickSize": 4, "title": null}},
    "y": {"field": "z", "type": "quantitative", "scale": {"domain": [-2, 9], "nice": false, "zero": false}, "axis": {"values": [-2,0,2,4,6,8], "labels": false, "tickSize": 3, "title": null}},
    "order": {"field": "i"},
    "strokeDash": {"field": "serie", "type": "nominal", "scale": {"domain": ["6-12-95", "18-1-96", "INICIAL"], "range": [[1, 0], [1, 0], [5, 3]]}, "legend": {"title": null, "orient": "none", "legendX": 327, "legendY": 47, "clipHeight": 15, "rowPadding": -1}},
    "strokeWidth": {"field": "serie", "type": "nominal", "scale": {"type": "ordinal", "domain": ["6-12-95", "18-1-96", "INICIAL"], "range": [1.3, 2.1, 1.2]}, "legend": {"title": null, "orient": "none", "legendX": 327, "legendY": 47, "clipHeight": 15, "rowPadding": -1}}
   }}
 ]},
{"width": 310, "height": 99,
 "layer": [
  {"data": {"values": [{}]}, "mark": {"type": "rule", "color": "#111", "strokeWidth": 1.3, "strokeDash": [11, 4]}, "encoding": {"y": {"datum": 0}}},
  {"data": {"name": "perfiles"}, "transform": [{"filter": "datum.fila == 3 && datum.est == 3"}],
   "mark": {"type": "line", "color": "#111", "clip": true},
   "encoding": {
    "x": {"field": "d", "type": "quantitative", "scale": {"domain": [-30, 120], "nice": false, "zero": false}, "axis": {"values": [-30,-20,-10,0,10,20,30,40,50,60,70,80,90,100,110,120], "labels": false, "tickSize": 4, "title": null}},
    "y": {"field": "z", "type": "quantitative", "scale": {"domain": [-2, 9], "nice": false, "zero": false}, "axis": {"values": [-2,0,2,4,6,8], "labels": false, "tickSize": 3, "title": null}},
    "order": {"field": "i"},
    "strokeDash": {"field": "serie", "type": "nominal", "scale": {"domain": ["18-1-96", "28-2-96", "INICIAL"], "range": [[1, 0], [1, 0], [5, 3]]}, "legend": null},
    "strokeWidth": {"field": "serie", "type": "nominal", "scale": {"type": "ordinal", "domain": ["18-1-96", "28-2-96", "INICIAL"], "range": [1.3, 2.1, 1.2]}, "legend": null}
   }}
 ]},
{"width": 318, "height": 99,
 "layer": [
  {"data": {"values": [{}]}, "mark": {"type": "rule", "color": "#111", "strokeWidth": 1.3, "strokeDash": [11, 4]}, "encoding": {"y": {"datum": 0}}},
  {"data": {"name": "perfiles"}, "transform": [{"filter": "datum.fila == 3 && datum.est == 2"}],
   "mark": {"type": "line", "color": "#111", "clip": true},
   "encoding": {
    "x": {"field": "d", "type": "quantitative", "scale": {"domain": [-30, 120], "nice": false, "zero": false}, "axis": {"values": [-30,-20,-10,0,10,20,30,40,50,60,70,80,90,100,110,120], "labels": false, "tickSize": 4, "title": null}},
    "y": {"field": "z", "type": "quantitative", "scale": {"domain": [-2, 9], "nice": false, "zero": false}, "axis": {"values": [-2,0,2,4,6,8], "labels": false, "tickSize": 3, "title": null}},
    "order": {"field": "i"},
    "strokeDash": {"field": "serie", "type": "nominal", "scale": {"domain": ["18-1-96", "28-2-96", "INICIAL"], "range": [[1, 0], [1, 0], [5, 3]]}, "legend": null},
    "strokeWidth": {"field": "serie", "type": "nominal", "scale": {"type": "ordinal", "domain": ["18-1-96", "28-2-96", "INICIAL"], "range": [1.3, 2.1, 1.2]}, "legend": null}
   }}
 ]},
{"width": 312, "height": 99,
 "layer": [
  {"data": {"values": [{}]}, "mark": {"type": "rule", "color": "#111", "strokeWidth": 1.3, "strokeDash": [11, 4]}, "encoding": {"y": {"datum": 0}}},
  {"data": {"name": "perfiles"}, "transform": [{"filter": "datum.fila == 3 && datum.est == 1"}],
   "mark": {"type": "line", "color": "#111", "clip": true},
   "encoding": {
    "x": {"field": "d", "type": "quantitative", "scale": {"domain": [-30, 120], "nice": false, "zero": false}, "axis": {"values": [-30,-20,-10,0,10,20,30,40,50,60,70,80,90,100,110,120], "labels": false, "tickSize": 4, "title": null}},
    "y": {"field": "z", "type": "quantitative", "scale": {"domain": [-2, 9], "nice": false, "zero": false}, "axis": {"values": [-2,0,2,4,6,8], "labels": false, "tickSize": 3, "title": null}},
    "order": {"field": "i"},
    "strokeDash": {"field": "serie", "type": "nominal", "scale": {"domain": ["18-1-96", "28-2-96", "INICIAL"], "range": [[1, 0], [1, 0], [5, 3]]}, "legend": {"title": null, "orient": "none", "legendX": 327, "legendY": 39, "clipHeight": 15, "rowPadding": 1}},
    "strokeWidth": {"field": "serie", "type": "nominal", "scale": {"type": "ordinal", "domain": ["18-1-96", "28-2-96", "INICIAL"], "range": [1.3, 2.1, 1.2]}, "legend": {"title": null, "orient": "none", "legendX": 327, "legendY": 39, "clipHeight": 15, "rowPadding": 1}}
   }}
 ]},
{"width": 310, "height": 99,
 "layer": [
  {"data": {"values": [{}]}, "mark": {"type": "rule", "color": "#111", "strokeWidth": 1.3, "strokeDash": [11, 4]}, "encoding": {"y": {"datum": 0}}},
  {"data": {"name": "perfiles"}, "transform": [{"filter": "datum.fila == 4 && datum.est == 3"}],
   "mark": {"type": "line", "color": "#111", "clip": true},
   "encoding": {
    "x": {"field": "d", "type": "quantitative", "scale": {"domain": [-30, 120], "nice": false, "zero": false}, "axis": {"values": [-30,-20,-10,0,10,20,30,40,50,60,70,80,90,100,110,120], "labels": false, "tickSize": 4, "title": null}},
    "y": {"field": "z", "type": "quantitative", "scale": {"domain": [-2, 9], "nice": false, "zero": false}, "axis": {"values": [-2,0,2,4,6,8], "labels": false, "tickSize": 3, "title": null}},
    "order": {"field": "i"},
    "strokeDash": {"field": "serie", "type": "nominal", "scale": {"domain": ["28-2-96", "30-7-96", "INICIAL"], "range": [[1, 0], [1, 0], [5, 3]]}, "legend": null},
    "strokeWidth": {"field": "serie", "type": "nominal", "scale": {"type": "ordinal", "domain": ["28-2-96", "30-7-96", "INICIAL"], "range": [1.3, 2.1, 1.2]}, "legend": null}
   }}
 ]},
{"width": 318, "height": 99,
 "layer": [
  {"data": {"values": [{}]}, "mark": {"type": "rule", "color": "#111", "strokeWidth": 1.3, "strokeDash": [11, 4]}, "encoding": {"y": {"datum": 0}}},
  {"data": {"name": "perfiles"}, "transform": [{"filter": "datum.fila == 4 && datum.est == 2"}],
   "mark": {"type": "line", "color": "#111", "clip": true},
   "encoding": {
    "x": {"field": "d", "type": "quantitative", "scale": {"domain": [-30, 120], "nice": false, "zero": false}, "axis": {"values": [-30,-20,-10,0,10,20,30,40,50,60,70,80,90,100,110,120], "labels": false, "tickSize": 4, "title": null}},
    "y": {"field": "z", "type": "quantitative", "scale": {"domain": [-2, 9], "nice": false, "zero": false}, "axis": {"values": [-2,0,2,4,6,8], "labels": false, "tickSize": 3, "title": null}},
    "order": {"field": "i"},
    "strokeDash": {"field": "serie", "type": "nominal", "scale": {"domain": ["28-2-96", "30-7-96", "INICIAL"], "range": [[1, 0], [1, 0], [5, 3]]}, "legend": null},
    "strokeWidth": {"field": "serie", "type": "nominal", "scale": {"type": "ordinal", "domain": ["28-2-96", "30-7-96", "INICIAL"], "range": [1.3, 2.1, 1.2]}, "legend": null}
   }}
 ]},
{"width": 312, "height": 99,
 "layer": [
  {"data": {"values": [{}]}, "mark": {"type": "rule", "color": "#111", "strokeWidth": 1.3, "strokeDash": [11, 4]}, "encoding": {"y": {"datum": 0}}},
  {"data": {"name": "perfiles"}, "transform": [{"filter": "datum.fila == 4 && datum.est == 1"}],
   "mark": {"type": "line", "color": "#111", "clip": true},
   "encoding": {
    "x": {"field": "d", "type": "quantitative", "scale": {"domain": [-30, 120], "nice": false, "zero": false}, "axis": {"values": [-30,-20,-10,0,10,20,30,40,50,60,70,80,90,100,110,120], "labels": false, "tickSize": 4, "title": null}},
    "y": {"field": "z", "type": "quantitative", "scale": {"domain": [-2, 9], "nice": false, "zero": false}, "axis": {"values": [-2,0,2,4,6,8], "labels": false, "tickSize": 3, "title": null}},
    "order": {"field": "i"},
    "strokeDash": {"field": "serie", "type": "nominal", "scale": {"domain": ["28-2-96", "30-7-96", "INICIAL"], "range": [[1, 0], [1, 0], [5, 3]]}, "legend": {"title": null, "orient": "none", "legendX": 327, "legendY": 30, "clipHeight": 15, "rowPadding": 4}},
    "strokeWidth": {"field": "serie", "type": "nominal", "scale": {"type": "ordinal", "domain": ["28-2-96", "30-7-96", "INICIAL"], "range": [1.3, 2.1, 1.2]}, "legend": {"title": null, "orient": "none", "legendX": 327, "legendY": 30, "clipHeight": 15, "rowPadding": 4}}
   }}
 ]}
],
"config": {
 "font": "Liberation Sans",
 "view": {"stroke": "#111", "strokeWidth": 1.2},
 "axis": {"domain": false, "grid": false, "tickColor": "#111", "tickWidth": 1, "labelColor": "#111", "titleColor": "#111", "labelOverlap": false},
 "title": {"fontSize": 25, "fontWeight": "bold", "color": "#111", "offset": 40, "anchor": "middle", "frame": "group"},
 "legend": {"labelFontSize": 17, "labelColor": "#111", "symbolType": "stroke", "symbolSize": 1849, "symbolStrokeColor": "#111", "labelOffset": 12, "padding": 0}
}
}
